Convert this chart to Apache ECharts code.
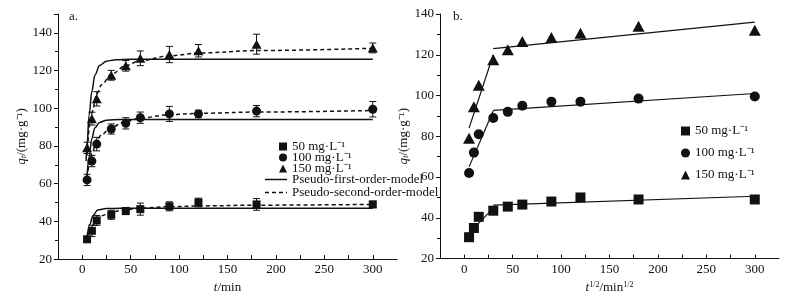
<!DOCTYPE html>
<html>
<head>
<meta charset="utf-8">
<title>kinetics</title>
<script src="https://cdn.jsdelivr.net/npm/echarts@6.0.0/dist/echarts.min.js"></script>
<style>
    html, body { margin: 0; padding: 0; background: #fff; }
    #chart { width: 806px; height: 299px; }
</style>
</head>
<body>
<div id="chart"></div>
<script>
// 实验数据 (t / min)
var times = [5, 10, 15, 30, 45, 60, 90, 120, 180, 300];
var q50 = [30.5, 35, 40.5, 43.5, 45.5, 46.5, 48, 50, 49, 49];
var q100 = [62, 72, 81, 89, 92, 95, 97, 97, 98.5, 99.5];
var q150 = [79, 94.5, 105, 117.5, 122.5, 126.5, 128.5, 130.5, 134, 132];
// 误差 (±)
var err50 = [1.5, 3, 2.6, 2.4, 1.9, 3.2, 2.4, 2.3, 3.1, 1.7];
var err100 = [3, 3, 3.6, 2.7, 3, 3, 4, 2, 3, 4.1];
var err150 = [3, 3.4, 3.8, 2.6, 2.8, 3.9, 4.3, 3.3, 5.3, 2.6];

// 准一级模型
var pfoT50 = [5, 8, 11, 16, 25, 40, 300];
var pfo50 = [32, 38.5, 43, 46, 46.8, 47, 47];
var pfoT100 = [5, 7, 10, 13, 18, 25, 40, 300];
var pfo100 = [64, 74, 84, 89.5, 92.5, 93.7, 94, 94];
var pfoT150 = [4, 5, 7, 10, 13, 18, 25, 35, 50, 300];
var pfo150 = [72, 80, 96, 109, 117.5, 122.7, 125, 125.8, 126, 126];

// 准二级模型
var psoT = [5, 8, 10, 15, 20, 30, 45, 60, 90, 120, 180, 300];
var pso50 = [31, 35.5, 37.5, 41, 43, 45, 46.2, 47, 47.8, 48.2, 48.6, 49];
var pso100 = [63, 72, 76, 83, 86, 90, 93, 94.8, 96.6, 97.3, 98, 98.8];
var pso150 = [75, 92, 98, 107.5, 112.5, 118, 122.7, 125.3, 127.8, 129.3, 130.6, 131.8];

// 颗粒内扩散拟合线 (两段)
var idT1 = [5, 30];
var idT2 = [30, 300];
var id50a = [32.5, 44.8], id50b = [46.2, 50.6];
var id100a = [65, 92.5], id100b = [92.7, 101];
var id150a = [84, 120], id150b = [123, 136];

var names = ["50 mg·L⁻¹", "100 mg·L⁻¹", "150 mg·L⁻¹"];
var pfoName = "Pseudo-first-order-model";
var psoName = "Pseudo-second-order-model";

var FONT = "'Liberation Serif', 'Times New Roman', serif";
var INK = "#111";

function pairs(xs, ys) {
    return xs.map(function (x, i) { return [x, ys[i]]; });
}
function bars(ys, es) {
    return times.map(function (t, i) { return [t, ys[i] - es[i], ys[i] + es[i]]; });
}

function errorBar(params, api) {
    var x = api.value(0);
    var top = api.coord([x, api.value(2)]);
    var bot = api.coord([x, api.value(1)]);
    var w = 3.5;
    var st = { stroke: INK, lineWidth: 1 };
    return {
        type: "group",
        children: [
            { type: "line", shape: { x1: top[0], y1: top[1], x2: bot[0], y2: bot[1] }, style: st },
            { type: "line", shape: { x1: top[0] - w, y1: top[1], x2: top[0] + w, y2: top[1] }, style: st },
            { type: "line", shape: { x1: bot[0] - w, y1: bot[1], x2: bot[0] + w, y2: bot[1] }, style: st },
        ],
    };
}

function xAxis(gridIndex, name) {
    return {
        gridIndex: gridIndex,
        type: "value",
        min: -25,
        max: 325,
        interval: 25,
        name: name,
        nameLocation: "middle",
        nameGap: 13,
        nameTextStyle: {
            fontFamily: FONT, fontSize: 13, color: INK,
            rich: {
                i: { fontFamily: FONT, fontSize: 13, fontStyle: "italic", color: INK },
                n: { fontFamily: FONT, fontSize: 13, color: INK },
                sup: { fontFamily: FONT, fontSize: 8, color: INK, verticalAlign: "top", lineHeight: 14 },
            },
        },
        axisLine: { onZero: false, lineStyle: { color: INK, width: 1 } },
        axisTick: { inside: true, length: 4, lineStyle: { color: INK } },
        splitLine: { show: false },
        axisLabel: {
            margin: 4,
            fontFamily: FONT,
            fontSize: 13,
            color: INK,
            showMinLabel: false,
            showMaxLabel: false,
            formatter: function (v) { return v % 50 === 0 ? String(v) : ""; },
        },
    };
}

function yAxis(gridIndex, max, gap) {
    return {
        gridIndex: gridIndex,
        type: "value",
        min: 20,
        max: max,
        interval: 20,
        name: "{i|q}{s|t}{n|/(mg·g⁻¹)}",
        nameLocation: "middle",
        nameRotate: 90,
        nameGap: gap,
        nameTextStyle: {
            fontFamily: FONT, fontSize: 13, color: INK,
            rich: {
                i: { fontFamily: FONT, fontSize: 13, fontStyle: "italic", color: INK, lineHeight: 14 },
                s: { fontFamily: FONT, fontSize: 9, fontStyle: "italic", color: INK, verticalAlign: "bottom", lineHeight: 14 },
                n: { fontFamily: FONT, fontSize: 13, color: INK, lineHeight: 14 },
            },
        },
        axisLine: { onZero: false, lineStyle: { color: INK, width: 1 } },
        axisTick: { inside: false, length: 4, lineStyle: { color: INK } },
        minorTick: { show: true, splitNumber: 2, length: 3, lineStyle: { color: INK } },
        splitLine: { show: false },
        axisLabel: {
            margin: 6,
            fontFamily: FONT,
            fontSize: 13,
            color: INK,
            showMaxLabel: max % 20 === 0,
        },
    };
}

var symbols = ["rect", "circle", "triangle"];
var sizeA = [[8, 8], 9, [10, 9]];
var sizeB = [[10, 10], 10, [12, 11]];
var qs = [q50, q100, q150];
var errs = [err50, err100, err150];

var series = [];

// 图 a: 误差棒
for (var k = 0; k < 3; k++) {
    series.push({
        type: "custom",
        xAxisIndex: 0, yAxisIndex: 0,
        renderItem: errorBar,
        encode: { x: 0, y: [1, 2] },
        data: bars(qs[k], errs[k]),
        z: 3,
        silent: true,
    });
}

// 图 a: 模型曲线
[[pfoT50, pfo50], [pfoT100, pfo100], [pfoT150, pfo150]].forEach(function (d) {
    series.push({
        name: pfoName, type: "line", xAxisIndex: 0, yAxisIndex: 0,
        data: pairs(d[0], d[1]), symbol: "none", smooth: 0.35, smoothMonotone: "x",
        lineStyle: { color: INK, width: 1.5, type: "solid" }, itemStyle: { color: INK }, z: 2,
    });
});
[pso50, pso100, pso150].forEach(function (d) {
    series.push({
        name: psoName, type: "line", xAxisIndex: 0, yAxisIndex: 0,
        data: pairs(psoT, d), symbol: "none", smooth: 0.35, smoothMonotone: "x",
        lineStyle: { color: INK, width: 1.5, type: [4, 3] }, itemStyle: { color: INK }, z: 2,
    });
});

// 图 a: 散点
for (var k = 0; k < 3; k++) {
    series.push({
        name: names[k], type: "scatter", xAxisIndex: 0, yAxisIndex: 0,
        data: pairs(times, qs[k]), symbol: symbols[k], symbolSize: sizeA[k],
        itemStyle: { color: INK, opacity: 1 }, z: 4,
    });
}

// 图 b: 散点
for (var k = 0; k < 3; k++) {
    series.push({
        name: names[k], type: "scatter", xAxisIndex: 1, yAxisIndex: 1,
        data: pairs(times, qs[k]), symbol: symbols[k], symbolSize: sizeB[k],
        itemStyle: { color: INK, opacity: 1 }, z: 4,
    });
}

// 图 b: 分段拟合线
[[idT1, id50a], [idT2, id50b], [idT1, id100a], [idT2, id100b], [idT1, id150a], [idT2, id150b]].forEach(function (d) {
    series.push({
        type: "line", xAxisIndex: 1, yAxisIndex: 1,
        data: pairs(d[0], d[1]), symbol: "none",
        lineStyle: { color: INK, width: 1.2 }, z: 2,
    });
});

var legendText = { fontFamily: FONT, fontSize: 13, color: INK };

var option = {
    backgroundColor: "#fff",
    animation: false,
    textStyle: { fontFamily: FONT },
    title: [
        { text: "a.", left: 64, top: 5, textStyle: { fontFamily: FONT, fontSize: 13, fontWeight: "normal", color: INK } },
        { text: "b.", left: 448, top: 5, textStyle: { fontFamily: FONT, fontSize: 13, fontWeight: "normal", color: INK } },
    ],
    grid: [
        { left: 58, top: 14, width: 339, height: 252 },
        { left: 440, top: 14, width: 339, height: 252 },
    ],
    legend: [
        {
            orient: "vertical", left: 274, top: 135, itemWidth: 8, itemHeight: 8, itemGap: -2,
            data: names, selectedMode: false,
            textStyle: Object.assign({ lineHeight: 11 }, legendText),
        },
        {
            // 线型图例: 实线 / 虚线
            orient: "vertical", left: 260, top: 168, itemWidth: 22, itemHeight: 1.5, itemGap: 0,
            symbolKeepAspect: false,
            data: [
                { name: pfoName, icon: "rect" },
                { name: psoName, icon: "path://M0,0h4v1h-4z M7,0h4v1h-4z M14,0h4v1h-4z M21,0h1v1h-1z" },
            ],
            selectedMode: false,
            textStyle: Object.assign({ lineHeight: 13 }, legendText),
        },
        {
            orient: "vertical", left: 676, top: 115, itemWidth: 9, itemHeight: 9, itemGap: 0,
            data: names, selectedMode: false,
            textStyle: Object.assign({ lineHeight: 22 }, legendText),
        },
    ],
    xAxis: [
        xAxis(0, "{i|t}{n|/min}"),
        xAxis(1, "{i|t}{sup|1/2}{n|/min}{sup|1/2}"),
    ],
    yAxis: [yAxis(0, 150, 28), yAxis(1, 140, 27)],
    series: series,
};

var chart = echarts.init(document.getElementById("chart"), null, { renderer: "canvas" });
chart.setOption(option);
</script>
</body>
</html>
